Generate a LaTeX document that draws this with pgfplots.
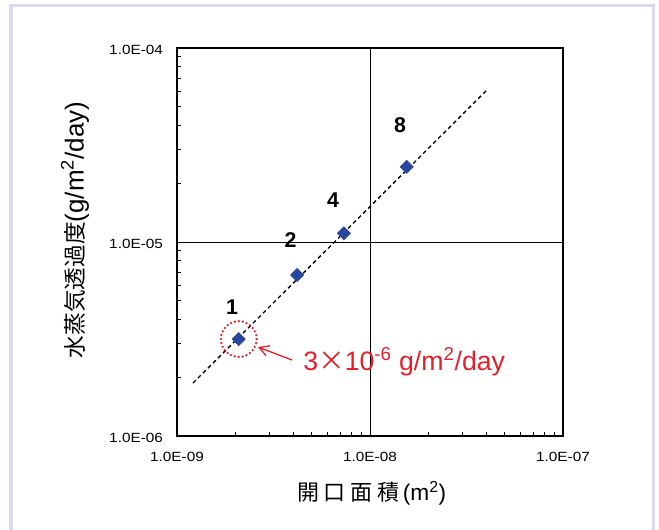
\documentclass[border=0pt]{standalone}
\usepackage{pgfplots}
\pgfplotsset{compat=1.18}
\usepackage{fontspec}
\setmainfont{Liberation Sans}
\newfontfamily\cjk{Noto Sans CJK JP}
\newfontfamily\tickfont{Liberation Sans}[FakeStretch=1.15]
\usetikzlibrary{arrows.meta}
\definecolor{frameclr}{RGB}{220,218,240}
\definecolor{markclr}{RGB}{40,70,160}
\definecolor{annotclr}{RGB}{232,30,40}
\begin{document}
\begin{tikzpicture}[x=1pt,y=1pt]
\useasboundingbox (-132.75,-69.75) rectangle (361.5,327);
\draw[frameclr, line width=2.6pt] (-124.5,-72) -- (-124.5,322.9) -- (357.4,322.9) -- (357.4,-72);
\begin{axis}[
  at={(0,0)}, anchor=south west,
  scale only axis, width=289.5pt, height=291pt,
  xmode=log, ymode=log,
  xmin=1e-9, xmax=1e-7, ymin=1e-6, ymax=1e-4,
  xtick={1e-9,1e-8,1e-7}, ytick={1e-6,1e-5,1e-4},
  xticklabels={1.0E-09,1.0E-08,1.0E-07},
  yticklabels={1.0E-06,1.0E-05,1.0E-04},
  tick pos=left, tick align=inside,
  major tick length=0pt, minor tick length=3pt,
  tick style={black, line width=0.6pt},
  grid=major, major grid style={black, line width=0.6pt},
  axis line style={black, line width=0.8pt},
  ticklabel style={font=\tickfont\fontsize{10}{12}\selectfont},
  xticklabel style={yshift=-8.5pt},
  yticklabel style={xshift=-7pt, yshift=-1.5pt},
  clip=false,
]
\addplot[black, line width=1pt, dash pattern=on 3pt off 2.3pt] coordinates {(1.21e-9,1.875e-6) (4.04e-8,6.08e-5)};
\addplot[only marks, mark=square*, mark size=3.5pt, mark options={rotate=45}, color=markclr] coordinates {
(2.09e-9,3.16e-6) (4.19e-9,6.76e-6) (7.33e-9,1.11e-5) (1.55e-8,2.44e-5)};
\draw[annotclr, line width=1.9pt, line cap=round, dash pattern=on 0pt off 3pt] (axis cs:2.09e-9,3.16e-6) circle[radius=13.4pt];
\end{axis}
\begin{scope}[font=\fontsize{16}{18}\selectfont\bfseries]
\node at (41.25,96.75) {1};
\node at (85.1,147) {2};
\node at (117,177) {4};
\node at (167.25,233.25) {8};
\end{scope}
\draw[annotclr, line width=1pt, -{Straight Barb[length=7pt,width=8pt]}] (86.25,57) -- (60.75,66.75);
\node[annotclr, anchor=west, inner sep=0pt, font=\fontsize{20}{22}\selectfont] at (94.5,55.5) {3{\cjk ×}10\textsuperscript{-6} g/m\textsuperscript{2}/day};
\node[rotate=90, font=\fontsize{19.5}{21}\selectfont] at (-76.5,154.5) {{\cjk\fontsize{17}{19}\selectfont 水蒸気透過度}(g/m\textsuperscript{2}/day)};
\node[font=\fontsize{17}{19}\selectfont] at (146,-42.75) {{\cjk\fontsize{16.5}{18}\selectfont 開\hspace{3.5pt}口\hspace{3.5pt}面\hspace{3.5pt}積}\,(m\textsuperscript{2})};
\end{tikzpicture}
\end{document}
